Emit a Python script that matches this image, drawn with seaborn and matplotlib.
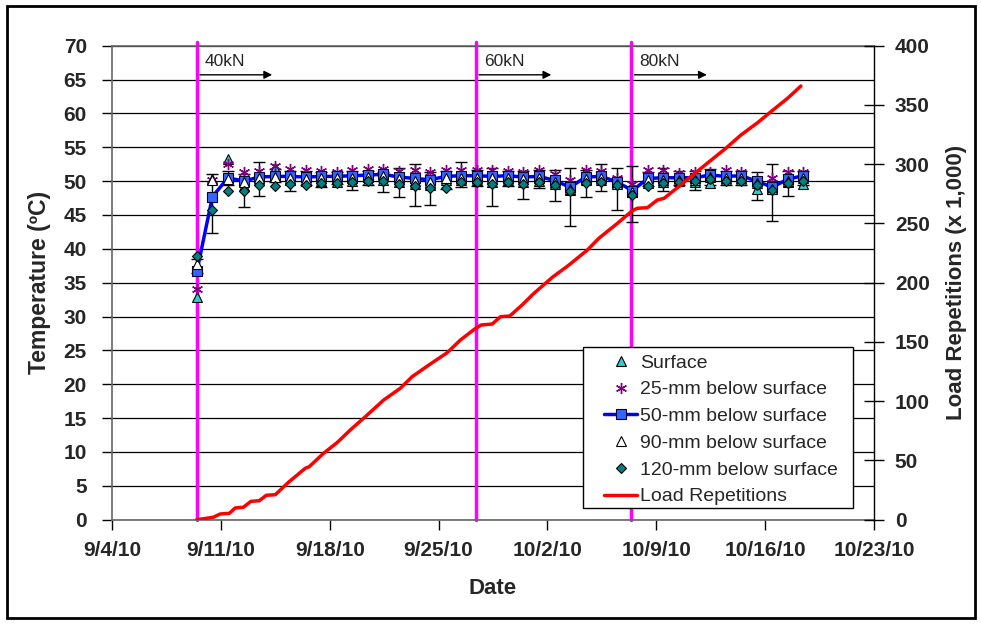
import numpy as np
import pandas as pd
import matplotlib
matplotlib.use("Agg")
import matplotlib.pyplot as plt
import matplotlib.dates as mdates
from matplotlib.patches import Rectangle
import seaborn as sns

# ---- data ----
start = pd.Timestamp("2010-09-04")
temp_dates = pd.date_range("2010-09-09 11:00", periods=40, freq="D")  # one reading a day

t_surface = [32.9, 50.3, 53.3, 49.3, 50.2, 52.0, 50.1, 50.0, 50.0, 49.9,
             50.0, 50.2, 50.2, 49.8, 49.6, 49.4, 50.2, 50.1, 50.2, 49.9,
             50.1, 49.8, 50.0, 49.6, 48.7, 50.1, 50.1, 49.7, 48.4, 49.7,
             49.9, 50.0, 49.9, 49.7, 50.1, 50.1, 48.9, 48.9, 49.9, 49.6]
t_25mm = [34.1, 50.1, 52.6, 51.4, 51.5, 52.2, 51.8, 51.7, 51.5, 51.4,
          51.6, 51.8, 51.8, 51.5, 51.6, 51.3, 51.6, 51.6, 51.7, 51.6,
          51.5, 51.4, 51.6, 51.1, 50.1, 51.6, 51.5, 50.4, 49.6, 51.6,
          51.6, 51.2, 51.3, 51.4, 51.6, 51.3, 50.3, 50.4, 51.4, 51.4]
t_50mm = [36.7, 47.7, 50.5, 50.0, 50.6, 50.7, 50.7, 50.6, 50.7, 50.7,
          50.8, 50.9, 51.0, 50.6, 50.4, 50.2, 50.7, 50.8, 50.8, 50.7,
          50.8, 50.6, 50.7, 50.1, 49.1, 50.6, 50.7, 49.9, 48.6, 50.4,
          50.5, 50.5, 50.5, 50.9, 50.7, 50.8, 50.0, 49.1, 50.3, 50.8]
t_90mm = [37.7, 50.2, 50.3, 49.8, 50.4, 50.6, 50.4, 50.3, 50.4, 50.4,
          50.5, 50.6, 50.7, 50.3, 50.0, 49.8, 50.4, 50.5, 50.5, 50.4,
          50.5, 50.3, 50.4, 49.8, 48.8, 50.3, 50.4, 49.6, 48.4, 50.1,
          50.2, 50.2, 50.2, 50.6, 50.4, 50.5, 49.7, 48.8, 50.0, 50.5]
t_120mm = [38.9, 45.8, 48.6, 48.5, 49.5, 49.3, 49.6, 49.5, 49.7, 49.7,
           49.9, 50.0, 50.0, 49.6, 49.3, 49.0, 49.0, 49.8, 49.8, 49.6,
           49.8, 49.6, 49.8, 49.4, 48.6, 49.7, 49.8, 49.5, 48.0, 49.3,
           49.7, 49.8, 50.0, 50.3, 50.0, 50.0, 49.5, 48.7, 49.7, 50.0]
# daily min / max range shown as error bars
bar_lo = [36.5, 42.3, 49.5, 46.2, 47.8, 49.8, 48.5, 49.5, 49.1, 49.6,
          48.7, 49.5, 48.4, 47.7, 46.4, 46.5, 48.8, 49.2, 49.3, 46.3,
          49.3, 47.4, 49.0, 47.0, 43.3, 47.6, 48.6, 45.8, 43.9, 49.3,
          48.5, 49.5, 48.7, 49.5, 49.4, 49.5, 47.2, 44.1, 47.8, 49.5]
bar_hi = [38.5, 51.0, 51.5, 51.0, 52.8, 51.8, 51.5, 51.5, 51.3, 51.3,
          51.5, 51.5, 51.4, 52.0, 52.6, 51.3, 51.5, 52.8, 51.6, 52.0,
          51.5, 51.5, 51.6, 51.6, 52.0, 51.6, 52.5, 52.0, 52.2, 51.4,
          52.0, 51.5, 51.5, 51.8, 51.5, 51.5, 51.4, 52.5, 51.5, 51.5]

# cumulative load repetitions (x 1,000), time in days after 9/4/10
load_day = [5.45, 6.5, 6.95, 7.55, 7.92, 8.45, 8.93, 9.47, 9.92, 10.5,
            11.35, 12.43, 12.68, 13.6, 14.47, 15.37, 16.29, 17.47, 18.54, 19.3,
            20.37, 21.55, 22.4, 23.3, 23.74, 24.45, 24.98, 25.58, 26.37, 27.13,
            28.31, 29.38, 30.57, 31.31, 32.5, 33.46, 33.78, 34.43, 35.07, 35.5,
            36.36, 37.22, 38.4, 39.47, 40.44, 41.51, 42.37, 43.44, 44.3]
load_k = [0, 2, 4.8, 5.4, 9.9, 10.5, 15.5, 16, 20.6, 21.1,
          31.6, 43.4, 44.7, 56, 65, 76.3, 86.9, 101, 110.9, 120.7,
          130.5, 140.9, 151.6, 160.7, 164.3, 165.1, 171.3, 171.9, 181.2, 191,
          204.5, 214.9, 227.6, 237.5, 250.1, 260.8, 262.8, 263.3, 269.8, 271.2,
          280.2, 289.5, 302.1, 313.4, 324.6, 335, 344.3, 355.6, 366]

# load level changes
phase_day = [5.45, 23.4, 33.4]
phase_label = ["40kN", "60kN", "80kN"]

load_dates = start + pd.to_timedelta(load_day, unit="D")
phase_dates = start + pd.to_timedelta(phase_day, unit="D")

temps = pd.DataFrame({"date": temp_dates, "surf": t_surface, "d25": t_25mm,
                      "d50": t_50mm, "d90": t_90mm, "d120": t_120mm})
load = pd.DataFrame({"date": load_dates, "reps": load_k})

sns.set_theme(style="white")
plt.rcParams["font.family"] = ["Liberation Sans", "DejaVu Sans"]

fig = plt.figure(figsize=(9.81, 6.24), dpi=100)
ax = fig.add_axes([112/981, 1 - 519.7/624, 762/981, 474/624])
ax2 = ax.twinx()

# magenta lines where the wheel load was raised
for d in phase_dates:
    ax.axvline(d, ymin=0, ymax=1.008, color="#FF00FF", lw=2.5, zorder=1, clip_on=False)

ax.errorbar(temps["date"], temps["d50"],
            yerr=[temps["d50"] - np.array(bar_lo), np.array(bar_hi) - temps["d50"]],
            fmt="none", ecolor="black", elinewidth=1, capsize=4, capthick=1, zorder=2)

sns.lineplot(data=temps, x="date", y="surf", ax=ax, ls="none", marker="^", ms=6.5,
             mfc="#33CCCC", mec="black", mew=0.8, legend=False, label="Surface", zorder=3)
sns.lineplot(data=temps, x="date", y="d25", ax=ax, ls="none", marker=(6, 2, 0), ms=8,
             mec="#800080", mew=1.0, legend=False, label="25-mm below surface", zorder=3)
sns.lineplot(data=temps, x="date", y="d50", ax=ax, color="#0000FF", lw=2.5, marker="s", ms=6.5,
             mfc="#3366FF", mec="#000033", mew=0.8, legend=False,
             label="50-mm below surface", zorder=3)
sns.lineplot(data=temps, x="date", y="d90", ax=ax, ls="none", marker="^", ms=6.5,
             mfc="white", mec="black", mew=0.8, legend=False, label="90-mm below surface", zorder=3)
sns.lineplot(data=temps, x="date", y="d120", ax=ax, ls="none", marker="D", ms=5.5,
             mfc="#008080", mec="black", mew=0.8, legend=False,
             label="120-mm below surface", zorder=3)

sns.lineplot(data=load, x="date", y="reps", ax=ax2, color="#FF0000", lw=2.5,
             legend=False, label="Load Repetitions")

# load level labels with arrows
for d, lab in zip(phase_dates, phase_label):
    ax.text(d + pd.Timedelta(days=0.5), 67.6, lab, fontsize=12.5, va="center", ha="left")
    ax.annotate("", xy=(d + pd.Timedelta(days=4.85), 65.7), xytext=(d + pd.Timedelta(days=0.2), 65.7),
                arrowprops=dict(arrowstyle="-|>", color="black", lw=1,
                                mutation_scale=12, shrinkA=0, shrinkB=0))

# axes
ax.set_xlim(start, pd.Timestamp("2010-10-23"))
ax.set_ylim(0, 70)
ax.set_yticks(np.arange(0, 71, 5))
ax2.set_ylim(0, 400)
ax2.set_yticks(np.arange(0, 401, 50))
ax.set_xticks(pd.date_range(start, "2010-10-23", freq="7D"))
ax.xaxis.set_major_formatter(plt.FuncFormatter(
    lambda v, p: (lambda d: f"{d.month}/{d.day}/{d:%y}")(mdates.num2date(v))))

ax.grid(axis="y", color="black", lw=0.9)
ax.grid(axis="x", visible=False)
ax2.grid(False)

ax.tick_params(axis="y", direction="out", length=7, width=1, color="black", pad=11,
               labelsize=15, left=True)
ax.tick_params(axis="x", direction="out", length=7, width=1, color="black", pad=8,
               labelsize=15, bottom=True)
ax2.tick_params(axis="y", direction="inout", length=14, width=1, color="black", pad=8,
                labelsize=15, right=True)
for t in ax.get_xticklabels() + ax.get_yticklabels() + ax2.get_yticklabels():
    t.set_fontweight("bold")

ax.set_xlabel("Date", fontsize=16, fontweight="bold", va="center")
ax.xaxis.set_label_coords(0.5, -0.146)
ax.set_ylabel("Temperature (ºC)", fontsize=16.5, fontweight="bold", va="center")
ax.yaxis.set_label_coords(-0.095, 0.5)
ax2.set_ylabel("Load Repetitions (x 1,000)", fontsize=16, fontweight="bold", va="center")
ax2.yaxis.set_label_coords(1.108, 0.5)

for side in ["left", "bottom", "top"]:
    ax.spines[side].set_color("#666666")
    ax.spines[side].set_linewidth(1.2)
ax.spines["right"].set_visible(False)
for side in ["left", "bottom", "top"]:
    ax2.spines[side].set_visible(False)
ax2.spines["right"].set_color("black")
ax2.spines["right"].set_linewidth(1)

# legend: white box drawn separately so the padding can match the original
ax2.add_patch(Rectangle((0.618, 0.0247), 0.3543, 0.3397, transform=ax2.transAxes,
                        facecolor="white", edgecolor="black", lw=1, zorder=5))
handles = [h for h in ax.get_lines() if not h.get_label().startswith("_")] + ax2.get_lines()
leg = ax2.legend(handles=handles, labels=[h.get_label() for h in handles],
                 loc="upper left", bbox_to_anchor=(0.6457, 0.3496), borderaxespad=0,
                 borderpad=0, fontsize=14, frameon=False, handlelength=1.7,
                 handletextpad=0.15, labelspacing=0.47)
leg.set_zorder(6)

# outer border of the chart area
fig.patches.append(Rectangle((7/981, 6/624), 968/981, 612/624, transform=fig.transFigure,
                             fill=False, lw=2, ec="black"))

fig.savefig("out.png", dpi=100)
